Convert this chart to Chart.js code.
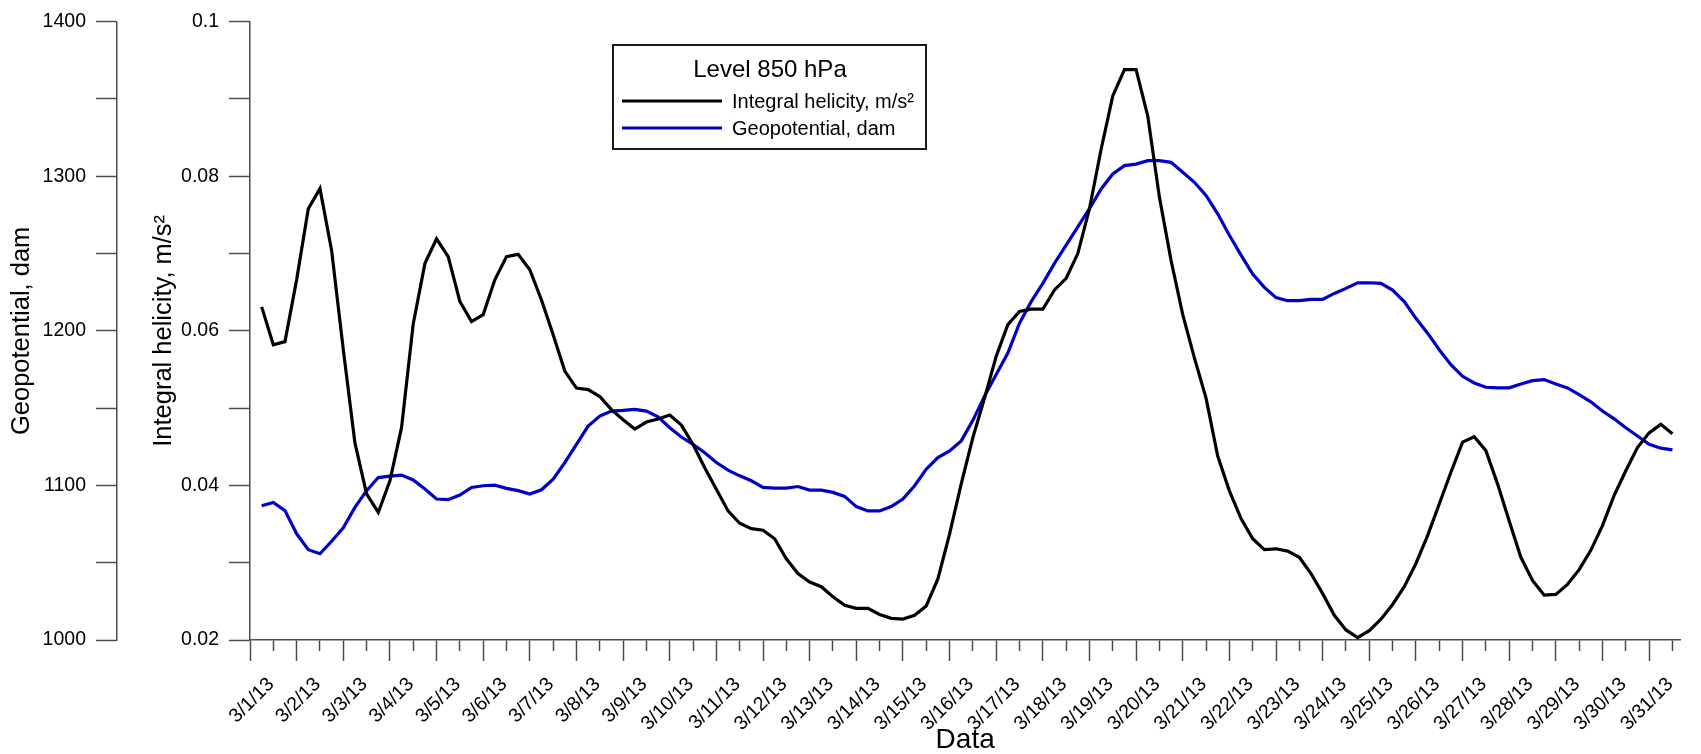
<!DOCTYPE html>
<html>
<head>
<meta charset="utf-8">
<script src="https://cdn.jsdelivr.net/npm/chart.js@4"></script>
<style>
  html, body { margin: 0; padding: 0; background: #fff; }
  #wrap { width: 1701px; height: 754px; }
</style>
</head>
<body>
<div id="wrap"><canvas id="chart" width="1701" height="754"></canvas></div>
<script>
// day labels on the x axis (one per day)
const dayLabels = ['3/1/13', '3/2/13', '3/3/13', '3/4/13', '3/5/13', '3/6/13', '3/7/13', '3/8/13',
  '3/9/13', '3/10/13', '3/11/13', '3/12/13', '3/13/13', '3/14/13', '3/15/13', '3/16/13', '3/17/13',
  '3/18/13', '3/19/13', '3/20/13', '3/21/13', '3/22/13', '3/23/13', '3/24/13', '3/25/13', '3/26/13',
  '3/27/13', '3/28/13', '3/29/13', '3/30/13', '3/31/13'];

// 6-hourly samples, first one at 3/1 06h (day 0.25)
const firstSample = 0.25;
const sampleStep = 0.25;

// Integral helicity, m/s2
const helicity = [
  0.0631, 0.0582, 0.0586, 0.0666, 0.0758, 0.0784, 0.0704, 0.0576,
  0.0455, 0.0389, 0.0365, 0.0406, 0.0475, 0.0609, 0.0687, 0.0719,
  0.0696, 0.0638, 0.0612, 0.0621, 0.0666, 0.0696, 0.0699, 0.0679,
  0.0640, 0.0595, 0.0548, 0.0526, 0.0524, 0.0515, 0.0498, 0.0485,
  0.0473, 0.0482, 0.0486, 0.0491, 0.0478, 0.0453, 0.0423, 0.0395,
  0.0367, 0.0351, 0.0344, 0.0342, 0.0331, 0.0305, 0.0286, 0.0275,
  0.0269, 0.0256, 0.0245, 0.0241, 0.0241, 0.0233, 0.0228, 0.0227,
  0.0232, 0.0244, 0.0279, 0.0337, 0.0402, 0.0462, 0.0513, 0.0567,
  0.0608, 0.0625, 0.0628, 0.0628, 0.0653, 0.0668, 0.0700, 0.0758,
  0.0835, 0.0904, 0.0938, 0.0938, 0.0878, 0.0773, 0.0691, 0.0621,
  0.0565, 0.0513, 0.0438, 0.0393, 0.0357, 0.0331, 0.0317, 0.0318,
  0.0315, 0.0307, 0.0286, 0.0260, 0.0232, 0.0213, 0.0203, 0.0212,
  0.0227, 0.0246, 0.0269, 0.0299, 0.0335, 0.0376, 0.0417, 0.0456,
  0.0463, 0.0445, 0.0402, 0.0354, 0.0307, 0.0277, 0.0258, 0.0259,
  0.0272, 0.0291, 0.0316, 0.0348, 0.0387, 0.0419, 0.0449, 0.0468,
  0.0479, 0.0467
];

// Geopotential, dam
const geopotential = [
  1086.9, 1089.0, 1083.7, 1068.7, 1058.4, 1055.8, 1063.9, 1072.6,
  1085.8, 1096.6, 1105.1, 1106.0, 1106.7, 1103.5, 1097.7, 1091.2,
  1090.8, 1093.8, 1098.7, 1099.8, 1100.2, 1098.1, 1096.6, 1094.4,
  1097.2, 1104.1, 1114.8, 1126.6, 1138.4, 1144.9, 1148.1, 1148.5,
  1149.2, 1148.1, 1144.4, 1137.3, 1131.3, 1126.6, 1121.2, 1114.8,
  1109.9, 1106.2, 1103.0, 1098.7, 1098.3, 1098.3, 1099.3, 1097.0,
  1097.0, 1095.5, 1092.9, 1086.3, 1083.5, 1083.5, 1086.3, 1091.2,
  1099.8, 1110.5, 1118.0, 1122.3, 1128.8, 1142.1, 1157.7, 1171.7,
  1185.6, 1204.9, 1218.9, 1230.7, 1243.6, 1255.4, 1267.2, 1279.0,
  1291.8, 1301.5, 1306.9, 1307.9, 1310.1, 1310.1, 1309.0, 1302.6,
  1296.1, 1287.6, 1275.7, 1261.8, 1249.0, 1236.7, 1228.1, 1221.5,
  1219.5, 1219.5, 1220.4, 1220.4, 1224.2, 1227.5, 1231.1, 1231.1,
  1230.7, 1226.4, 1218.9, 1208.1, 1198.5, 1187.8, 1178.1, 1170.6,
  1166.3, 1163.5, 1163.1, 1163.1, 1165.6, 1167.8, 1168.5, 1165.6,
  1163.1, 1158.8, 1154.1, 1148.1, 1143.1, 1137.3, 1132.0, 1126.6,
  1124.1, 1123.0
];

const FONT = "'Liberation Sans', Arial, sans-serif";
const AXIS = '#4d4d4d';

function toPoints(arr) {
  return arr.map((v, i) => ({ x: firstSample + i * sampleStep, y: v }));
}

function isWhole(v) {
  return Math.abs(v - Math.round(v)) < 1e-6;
}

// legend box drawn inside the plot
const boxLegend = {
  id: 'boxLegend',
  afterDraw(chart) {
    const ctx = chart.ctx;
    ctx.save();
    ctx.strokeStyle = '#1a1a1a';
    ctx.lineWidth = 2;
    ctx.strokeRect(613, 45, 313, 104);
    ctx.fillStyle = '#000';
    ctx.textBaseline = 'middle';
    ctx.textAlign = 'center';
    ctx.font = '24px ' + FONT;
    ctx.fillText('Level 850 hPa', 770, 70);
    ctx.textAlign = 'left';
    ctx.font = '20px ' + FONT;
    const rows = [101, 128];
    chart.data.datasets.forEach((ds, i) => {
      ctx.strokeStyle = ds.borderColor;
      ctx.lineWidth = 3;
      ctx.beginPath();
      ctx.moveTo(622, rows[i]);
      ctx.lineTo(722, rows[i]);
      ctx.stroke();
      ctx.fillText(ds.label, 732, rows[i] + 1);
    });
    ctx.restore();
  }
};

new Chart(document.getElementById('chart'), {
  type: 'line',
  data: {
    datasets: [
      {
        label: 'Integral helicity, m/s²',
        data: toPoints(helicity),
        yAxisID: 'yh',
        borderColor: '#000000',
        borderWidth: 3.2,
        pointRadius: 0,
        tension: 0
      },
      {
        label: 'Geopotential, dam',
        data: toPoints(geopotential),
        yAxisID: 'yg',
        borderColor: '#0000c8',
        borderWidth: 3.2,
        pointRadius: 0,
        tension: 0
      }
    ]
  },
  options: {
    responsive: false,
    animation: false,
    layout: { padding: { top: 19, right: 5, bottom: 0, left: 0 } },
    plugins: {
      legend: { display: false },
      tooltip: { enabled: false }
    },
    scales: {
      x: {
        type: 'linear',
        min: 0,
        max: 30.67,
        border: { color: AXIS, width: 1.5 },
        grid: {
          drawOnChartArea: false,
          tickLength: 21,
          tickColor: AXIS,
          tickWidth: 1.5,
          tickBorderDash: (c) => (c.tick && isWhole(c.tick.value)) ? [] : [10.5, 200]
        },
        ticks: {
          stepSize: 0.5,
          includeBounds: false,
          autoSkip: false,
          maxRotation: 45,
          minRotation: 45,
          labelOffset: 21,
          padding: 12,
          color: '#000',
          font: { family: FONT, size: 19.5 },
          callback: (v) => isWhole(v) ? dayLabels[Math.round(v)] : ''
        },
        title: {
          display: true,
          text: 'Data',
          color: '#000',
          font: { family: FONT, size: 28, lineHeight: 1 },
          padding: { top: 0, bottom: 0 }
        },
        afterFit: (s) => { s.height = 114; }
      },
      yg: {
        position: 'left',
        weight: 1,
        min: 1000,
        max: 1400,
        border: { color: AXIS, width: 1.5 },
        grid: { drawOnChartArea: false, tickLength: 21, tickColor: AXIS, tickWidth: 1.5 },
        ticks: {
          stepSize: 50,
          padding: 10,
          color: '#000',
          font: { family: FONT, size: 19.5 },
          callback: (v) => (Math.round(v) % 100 === 0) ? String(Math.round(v)) : ''
        },
        title: {
          display: true,
          text: 'Geopotential, dam',
          color: '#000',
          font: { family: FONT, size: 25.5 },
          padding: { top: 7, bottom: 0 }
        },
        afterFit: (s) => { s.width = 117; }
      },
      yh: {
        position: 'left',
        weight: 0,
        min: 0.02,
        max: 0.1,
        border: { color: AXIS, width: 1.5 },
        grid: { drawOnChartArea: false, tickLength: 21, tickColor: AXIS, tickWidth: 1.5 },
        ticks: {
          stepSize: 0.01,
          padding: 10,
          color: '#000',
          font: { family: FONT, size: 19.5 },
          callback: (v) => (Math.round(v * 100) % 2 === 0) ? String(+v.toFixed(2)) : ''
        },
        title: {
          display: true,
          text: 'Integral helicity, m/s²',
          color: '#000',
          font: { family: FONT, size: 25.5 },
          padding: { top: 32, bottom: 0 }
        },
        afterFit: (s) => { s.width = 133; }
      }
    }
  },
  plugins: [boxLegend]
});
</script>
</body>
</html>
